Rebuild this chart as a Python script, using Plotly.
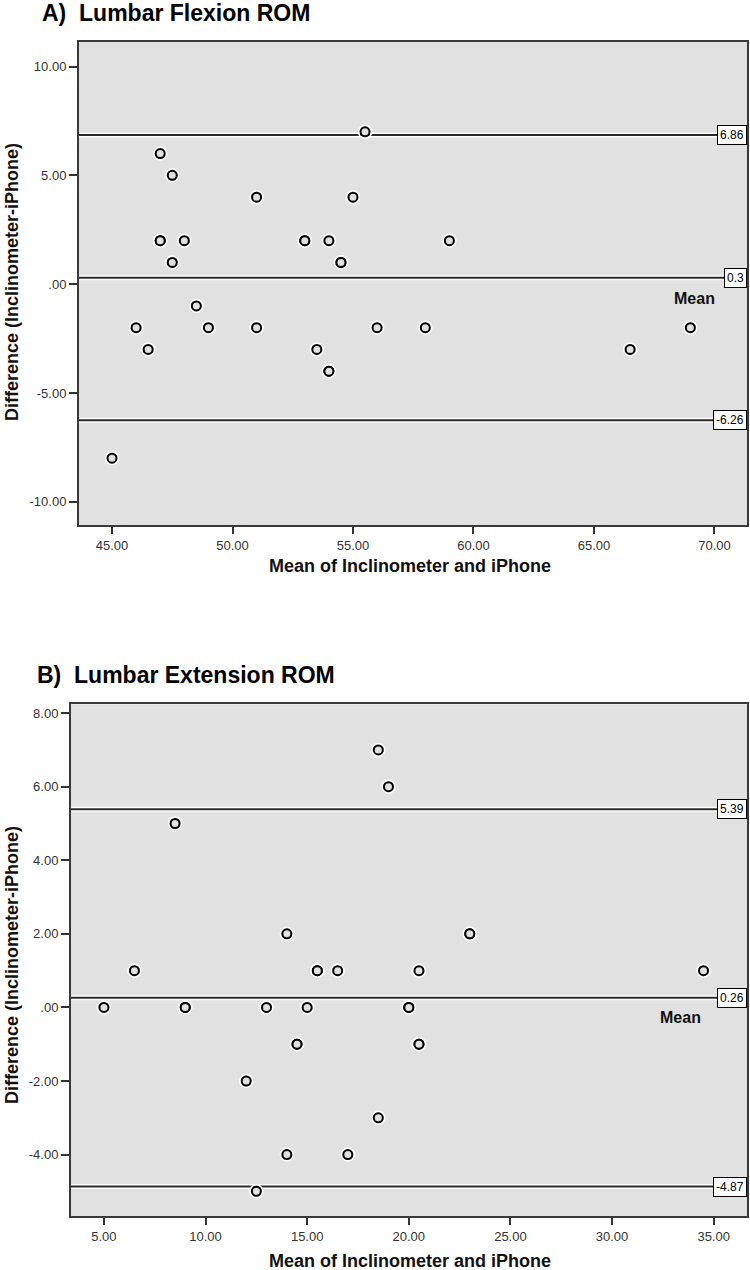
import plotly.graph_objects as go

# ---------------- Data ----------------
# Panel A: Lumbar Flexion ROM (duplicates reproduce the bolder overlapping markers)
flex_mean = [45, 46, 46.5, 47, 47, 47, 47.5, 47.5, 48, 48.5, 49, 51, 51, 53, 53, 53.5,
             54, 54, 54, 54.5, 54.5, 55, 55.5, 56, 58, 59, 66.5, 69]
flex_diff = [-8, -2, -3, 6, 2, 2, 5, 1, 2, -1, -2, 4, -2, 2, 2, -3,
             2, -4, -4, 1, 1, 4, 7, -2, -2, 2, -3, -2]
flex_lines = [6.86, 0.3, -6.26]
flex_line_labels = ["6.86", "0.3", "-6.26"]
flex_xticks = [45, 50, 55, 60, 65, 70]
flex_xticktext = ["45.00", "50.00", "55.00", "60.00", "65.00", "70.00"]
flex_yticks = [10, 5, 0, -5, -10]
flex_yticktext = ["10.00", "5.00", ".00", "-5.00", "-10.00"]

# Panel B: Lumbar Extension ROM
ext_mean = [5, 6.5, 8.5, 9, 9, 12, 12.5, 13, 14, 14, 14.5, 14.5, 15, 15.5, 15.5,
            16.5, 17, 18.5, 18.5, 19, 20, 20, 20.5, 20.5, 20.5, 23, 23, 34.5]
ext_diff = [0, 1, 5, 0, 0, -2, -5, 0, 2, -4, -1, -1, 0, 1, 1,
            1, -4, 7, -3, 6, 0, 0, 1, -1, -1, 2, 2, 1]
ext_lines = [5.39, 0.26, -4.87]
ext_line_labels = ["5.39", "0.26", "-4.87"]
ext_xticks = [5, 10, 15, 20, 25, 30, 35]
ext_xticktext = ["5.00", "10.00", "15.00", "20.00", "25.00", "30.00", "35.00"]
ext_yticks = [8, 6, 4, 2, 0, -2, -4]
ext_yticktext = ["8.00", "6.00", "4.00", "2.00", ".00", "-2.00", "-4.00"]

titles = ["A)\u00a0\u00a0Lumbar Flexion ROM", "B)\u00a0\u00a0Lumbar Extension ROM"]
x_title = "Mean of Inclinometer and iPhone"
y_title = "Difference (Inclinometer-iPhone)"

# ---------------- Layout helpers ----------------
W, H = 750, 1270


def fx(page_x):
    return page_x / W


def fy(page_y):
    return 1 - page_y / H


FONT = "Liberation Sans, Arial, sans-serif"
BG = "#e1e1e1"
DARK = "#2b2b2b"

fig = go.Figure()

panels = [
    dict(x=flex_mean, y=flex_diff, lines=flex_lines, labels=flex_line_labels,
         xa="x", ya="y", mean_pos=(69.17, -0.64)),
    dict(x=ext_mean, y=ext_diff, lines=ext_lines, labels=ext_line_labels,
         xa="x2", ya="y2", mean_pos=(33.36, -0.27)),
]

shapes = []
annotations = []
for p in panels:
    xd = p["xa"] + " domain"
    for val in p["lines"]:
        shapes.append(dict(type="line", xref=xd, x0=0, x1=1, yref=p["ya"], y0=val, y1=val,
                           line=dict(color="white", width=5), layer="below"))
        shapes.append(dict(type="line", xref=xd, x0=0, x1=1, yref=p["ya"], y0=val, y1=val,
                           line=dict(color=DARK, width=2), layer="below"))
    for val, lab in zip(p["lines"], p["labels"]):
        annotations.append(dict(xref=xd, x=1, yref=p["ya"], y=val, text=lab,
                                xanchor="right", yanchor="middle", showarrow=False,
                                font=dict(family=FONT, size=12, color="black"),
                                bgcolor="white", bordercolor="black", borderwidth=1, borderpad=2))
    annotations.append(dict(xref=p["xa"], yref=p["ya"], x=p["mean_pos"][0], y=p["mean_pos"][1],
                            text="<b>Mean</b>", showarrow=False,
                            font=dict(family=FONT, size=16, color="#111")))
    # white halo around each marker
    fig.add_trace(go.Scatter(x=p["x"], y=p["y"], mode="markers", xaxis=p["xa"], yaxis=p["ya"],
                             marker=dict(symbol="circle-open", size=13, color="white",
                                         line=dict(color="white", width=1.5)),
                             showlegend=False, hoverinfo="skip"))
    fig.add_trace(go.Scatter(x=p["x"], y=p["y"], mode="markers", xaxis=p["xa"], yaxis=p["ya"],
                             marker=dict(symbol="circle", size=9, color=BG,
                                         line=dict(color="black", width=2)),
                             showlegend=False))

# Panel titles
annotations.append(dict(xref="paper", yref="paper", x=fx(40), y=fy(13), text="<b>" + titles[0] + "</b>",
                        xanchor="left", yanchor="middle", showarrow=False,
                        font=dict(family=FONT, size=23, color="black")))
annotations.append(dict(xref="paper", yref="paper", x=fx(35), y=fy(675), text="<b>" + titles[1] + "</b>",
                        xanchor="left", yanchor="middle", showarrow=False,
                        font=dict(family=FONT, size=23, color="black")))
# Axis titles
for yc in [566, 1261]:
    annotations.append(dict(xref="paper", yref="paper", x=fx(410), y=fy(yc),
                            text="<b>" + x_title + "</b>", xanchor="center", yanchor="middle",
                            showarrow=False, font=dict(family=FONT, size=18, color="#111")))
for yc in [282, 965]:
    annotations.append(dict(xref="paper", yref="paper", x=fx(12), y=fy(yc),
                            text="<b>" + y_title + "</b>", xanchor="center", yanchor="middle",
                            textangle=-90, showarrow=False, font=dict(family=FONT, size=18, color="#111")))

axis_common = dict(showgrid=False, zeroline=False, showline=True, linecolor="#3a3a3a", linewidth=2,
                   mirror=True, ticks="outside", tickwidth=2, tickcolor="#333",
                   tickfont=dict(family=FONT, size=13, color="#333"), tickmode="array")

fig.update_layout(
    width=W, height=H, autosize=False,
    margin=dict(l=0, r=0, t=0, b=0),
    paper_bgcolor="white", plot_bgcolor=BG,
    showlegend=False,
    xaxis=dict(axis_common, domain=[fx(79), fx(747)], range=[43.63, 71.35], ticklen=7,
               tickvals=flex_xticks, ticktext=flex_xticktext, anchor="y"),
    yaxis=dict(axis_common, domain=[fy(525), fy(42)], range=[-11.07, 11.13], ticklen=8,
               tickvals=flex_yticks, ticktext=flex_yticktext, anchor="x"),
    xaxis2=dict(axis_common, domain=[fx(71), fx(747)], range=[3.38, 36.64], ticklen=7,
                tickvals=ext_xticks, ticktext=ext_xticktext, anchor="y2"),
    yaxis2=dict(axis_common, domain=[fy(1216), fy(704.3)], range=[-5.67, 8.24], ticklen=8,
                tickvals=ext_yticks, ticktext=ext_yticktext, anchor="x2"),
    shapes=shapes,
    annotations=annotations,
)

fig.write_html("out.html", config={"displayModeBar": False},
               post_script="document.body.style.margin='0';document.body.style.overflow='hidden';")
